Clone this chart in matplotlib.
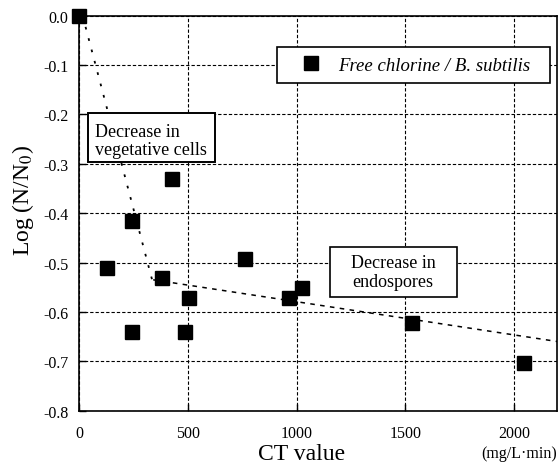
import numpy as np
import matplotlib.pyplot as plt
from matplotlib.patches import Rectangle

plt.rcParams['font.family'] = ['Liberation Serif', 'DejaVu Serif']
plt.rcParams['mathtext.fontset'] = 'stix'
plt.rcParams['axes.unicode_minus'] = False

# measured points (CT value, log reduction)
ct = [0, 126, 241, 241, 382, 425, 486, 505, 762, 965, 1026, 1532, 2047]
log_nn0 = [0.0, -0.511, -0.415, -0.641, -0.531, -0.331, -0.641, -0.571,
           -0.493, -0.571, -0.551, -0.622, -0.703]

# hand-drawn trend lines
veg_x = [15, 335]
veg_y = [0.0, -0.535]
spore_x = [340, 2200]
spore_y = [-0.535, -0.66]

x_ticks = [0, 500, 1000, 1500, 2000]
y_ticks = [0.0, -0.1, -0.2, -0.3, -0.4, -0.5, -0.6, -0.7, -0.8]

fig = plt.figure(figsize=(5.58, 4.64), dpi=100)
ax = fig.add_axes([0.1421, 0.1127, 0.857, 0.8517])

ax.set_xlim(0, 2200)
ax.set_ylim(-0.8, 0.0)
ax.set_xticks(x_ticks)
ax.set_yticks(y_ticks)
ax.set_yticklabels([f"{v:.1f}" for v in y_ticks])
ax.tick_params(direction='in', length=5, width=1, labelsize=11.5)
ax.tick_params(axis='y', pad=8)
ax.tick_params(axis='x', pad=10)
ax.grid(True, color='black', linestyle=(0, (3, 1.8)), linewidth=0.8)
ax.set_axisbelow(True)
for s in ax.spines.values():
    s.set_linewidth(1.2)

ax.plot(veg_x, veg_y, color='black', linestyle=(0, (1.5, 5)), linewidth=1.3)
ax.plot(spore_x, spore_y, color='black', linestyle=(0, (3, 3.5)), linewidth=1.1)

ax.plot(ct, log_nn0, linestyle='none', marker='s', markersize=9.5,
        color='black', clip_on=False, zorder=5,
        label='Free chlorine / B. subtilis')

# stretched legend box, same width as in the original figure
leg = ax.legend(loc='upper left', bbox_to_anchor=(0.4133, 0.0, 0.5707, 0.92),
                mode='expand', fancybox=False, framealpha=1, edgecolor='black',
                prop={'style': 'italic', 'size': 13.5},
                handlelength=2.6, handletextpad=0.15, borderpad=0.5,
                borderaxespad=0)
leg.get_frame().set_linewidth(1.2)

# annotation boxes
ax.add_patch(Rectangle((41, -0.297), 583, 0.100, facecolor='white',
                       edgecolor='black', linewidth=1.4, zorder=4))
ax.text(72, -0.2525, 'Decrease in\nvegetative cells', fontsize=13,
        va='center', ha='left', linespacing=1.1, zorder=6)

ax.add_patch(Rectangle((1153, -0.570), 583, 0.101, facecolor='white',
                       edgecolor='black', linewidth=1.2, zorder=4))
ax.text(1444, -0.5195, 'Decrease in\nendospores', fontsize=13,
        va='center', ha='center', linespacing=1.1, zorder=6)

ax.set_ylabel(r'Log (N/N$_0$)', fontsize=17)
ax.yaxis.set_label_coords(-0.09, 0.535)
fig.text(0.541, 0.009, 'CT value', fontsize=17, ha='center', va='baseline')
fig.text(0.998, 0.013, '(mg/L\u00b7min)', fontsize=11.5, ha='right', va='baseline')

fig.savefig('out.png', dpi=100)
